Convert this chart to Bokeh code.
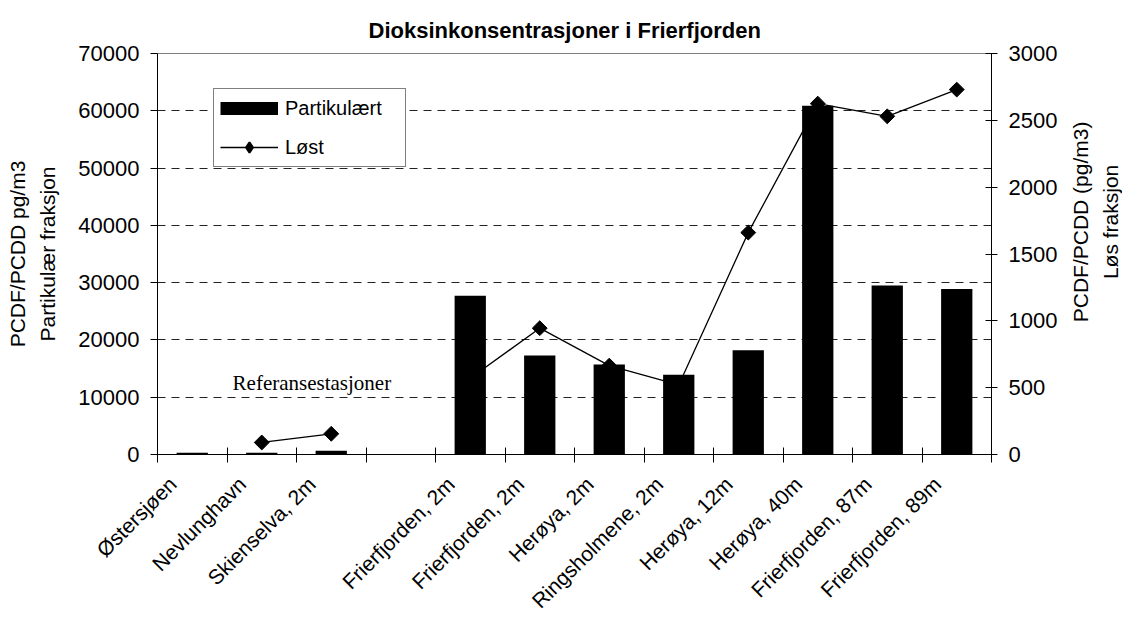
import math
import numpy as np
from bokeh.plotting import figure
from bokeh.layouts import row
from bokeh.models import (Range1d, LinearAxis, FixedTicker, Legend, LegendItem,
                          Label, ColumnDataSource)
from bokeh.embed import file_html
from bokeh.resources import INLINE

# ---------------- data ----------------
categories = ["Østersjøen", "Nevlunghavn", "Skienselva, 2m", "",
              "Frierfjorden, 2m", "Frierfjorden, 2m", "Herøya, 2m",
              "Ringsholmene, 2m", "Herøya, 12m", "Herøya, 40m",
              "Frierfjorden, 87m", "Frierfjorden, 89m"]
partikulaert = [300, 300, 650, 0, 27700, 17300, 15700, 13900, 18200, 60900, 29500, 28900]
lost = [np.nan, 90, 155, np.nan, 570, 945, 665, 520, 1660, 2625, 2530, 2730]
left_ticks = [0, 10000, 20000, 30000, 40000, 50000, 60000, 70000]
grid_ticks = [10000, 20000, 30000, 40000, 50000, 60000]
right_ticks = [0, 500, 1000, 1500, 2000, 2500, 3000]

title = "Dioksinkonsentrasjoner i Frierfjorden"
left_label = "PCDF/PCDD pg/m3\nPartikulær fraksjon"
right_label = "PCDF/PCDD (pg/m3)\nLøs fraksjon"
note = "Referansestasjoner"
legend_labels = ["Partikulært", "Løst"]

FONT = "Liberation Sans"
SERIF = "Liberation Serif"
LABEL_SHIFT = 0.28  # category label anchor shift (left), in category units

MAIN_W, STRIP_W, H = 1060, 62, 623

xs = list(range(len(categories)))
src = ColumnDataSource(dict(x=xs, part=np.array(partikulaert, dtype=float),
                            lost=np.array(lost, dtype=float)))

p = figure(width=MAIN_W, height=H, x_range=Range1d(-0.5, len(categories) - 0.5),
           y_range=Range1d(0, 70000), output_backend="svg", toolbar_location=None,
           min_border_left=157, min_border_right=68, min_border_top=53,
           min_border_bottom=168, background_fill_color="white",
           border_fill_color="white")
p.extra_y_ranges = {"right": Range1d(0, 3000)}

p.title.text = title
p.title.align = "left"
p.title.offset = 211
p.title.standoff = 21
p.title.text_font = FONT
p.title.text_font_size = "22px"
p.title.text_font_style = "bold"
p.title.text_color = "black"

p.outline_line_color = "#808080"
p.outline_line_width = 1

# grid
p.xgrid.visible = False
p.ygrid.ticker = FixedTicker(ticks=grid_ticks)
p.ygrid.grid_line_color = "#222222"
p.ygrid.grid_line_dash = "8 6"
p.ygrid.grid_line_width = 1

# left axis
ya = p.yaxis[0]
ya.ticker = FixedTicker(ticks=left_ticks)
ya.major_tick_in = 0
ya.major_tick_out = 7
ya.minor_tick_in = 0
ya.minor_tick_out = 0
ya.axis_line_color = "black"
ya.major_tick_line_color = "black"
ya.major_label_text_font = FONT
ya.major_label_text_font_size = "22px"
ya.major_label_text_color = "black"
ya.major_label_standoff = 11
ya.axis_label = left_label
ya.axis_label_text_font = FONT
ya.axis_label_text_font_size = "21px"
ya.axis_label_text_font_style = "normal"
ya.axis_label_text_color = "black"
ya.axis_label_standoff = 16
ya.axis_label_text_line_height = 1.3

# right axis (its title is drawn in the strip figure so it reads bottom-to-top)
ra = LinearAxis(y_range_name="right", ticker=FixedTicker(ticks=right_ticks))
ra.major_tick_in = 6
ra.major_tick_out = 6
ra.minor_tick_in = 0
ra.minor_tick_out = 0
ra.axis_line_color = "black"
ra.major_tick_line_color = "black"
ra.major_label_text_font = FONT
ra.major_label_text_font_size = "22px"
ra.major_label_text_color = "black"
ra.major_label_standoff = 11
p.add_layout(ra, "right")

# x axis: boundary ticks (minor) + category names on hidden major ticks
label_pos = [i - LABEL_SHIFT for i in xs]
xa = p.xaxis[0]
xa.ticker = FixedTicker(ticks=label_pos,
                        minor_ticks=[i - 0.5 for i in range(len(categories) + 1)])
xa.major_label_overrides = {pos: (c if c else " ") for pos, c in zip(label_pos, categories)}
xa.major_tick_in = 0
xa.major_tick_out = 0
xa.minor_tick_in = 7
xa.minor_tick_out = 8
xa.minor_tick_line_color = "black"
xa.axis_line_color = "black"
xa.major_label_orientation = math.pi / 4
xa.major_label_standoff = 18
xa.major_label_text_font = FONT
xa.major_label_text_font_size = "21px"
xa.major_label_text_color = "black"

# glyphs: line first, bars on top
line_r = p.line("x", "lost", source=src, y_range_name="right",
                line_color="black", line_width=1.3)
mark_r = p.scatter("x", "lost", source=src, y_range_name="right",
                   marker="square", angle=math.pi / 4, size=10.5,
                   fill_color="black", line_color="black")
bar_r = p.vbar(x="x", top="part", width=0.45, source=src,
               fill_color="black", line_color=None)

# legend-only glyphs (no visible data)
leg_bar = p.line(x=[np.nan], y=[np.nan], line_color="black", line_width=13,
                 line_cap="butt")
leg_mark = p.scatter(x=[np.nan], y=[np.nan], marker="diamond",
                     fill_color="black", line_color="black", line_width=2)

legend = Legend(items=[LegendItem(label=legend_labels[0], renderers=[leg_bar]),
                       LegendItem(label=legend_labels[1], renderers=[line_r, leg_mark])],
                location=(56, 287), orientation="vertical")
legend.glyph_width = 58
legend.glyph_height = 26
legend.label_height = 26
legend.label_width = 114
legend.label_standoff = 7
legend.spacing = 13
legend.padding = 6
legend.margin = 0
legend.border_line_color = "black"
legend.border_line_width = 1
legend.background_fill_color = "white"
legend.background_fill_alpha = 1
legend.label_text_font = FONT
legend.label_text_font_size = "20px"
legend.label_text_color = "black"
p.add_layout(legend)

p.add_layout(Label(x=0.58, y=12500, text=note, text_font=SERIF,
                   text_font_size="21px", text_color="black",
                   text_baseline="alphabetic"))

# narrow strip to the right carrying the right-axis title
strip = figure(width=STRIP_W, height=H, x_range=Range1d(0, 1), y_range=Range1d(0, 1),
               output_backend="svg", toolbar_location=None, x_axis_type=None,
               y_axis_type=None, min_border=0, outline_line_color=None,
               background_fill_color="white", border_fill_color="white")
strip.xgrid.visible = False
strip.ygrid.visible = False
strip.add_layout(Label(x=0.56, y=0.58, text=right_label, angle=math.pi / 2,
                       text_align="center", text_baseline="middle",
                       text_font=FONT, text_font_size="21px", text_color="black",
                       text_line_height=1.3))

layout = row(p, strip, spacing=0)
open("out.html", "w").write(file_html(layout, INLINE))
